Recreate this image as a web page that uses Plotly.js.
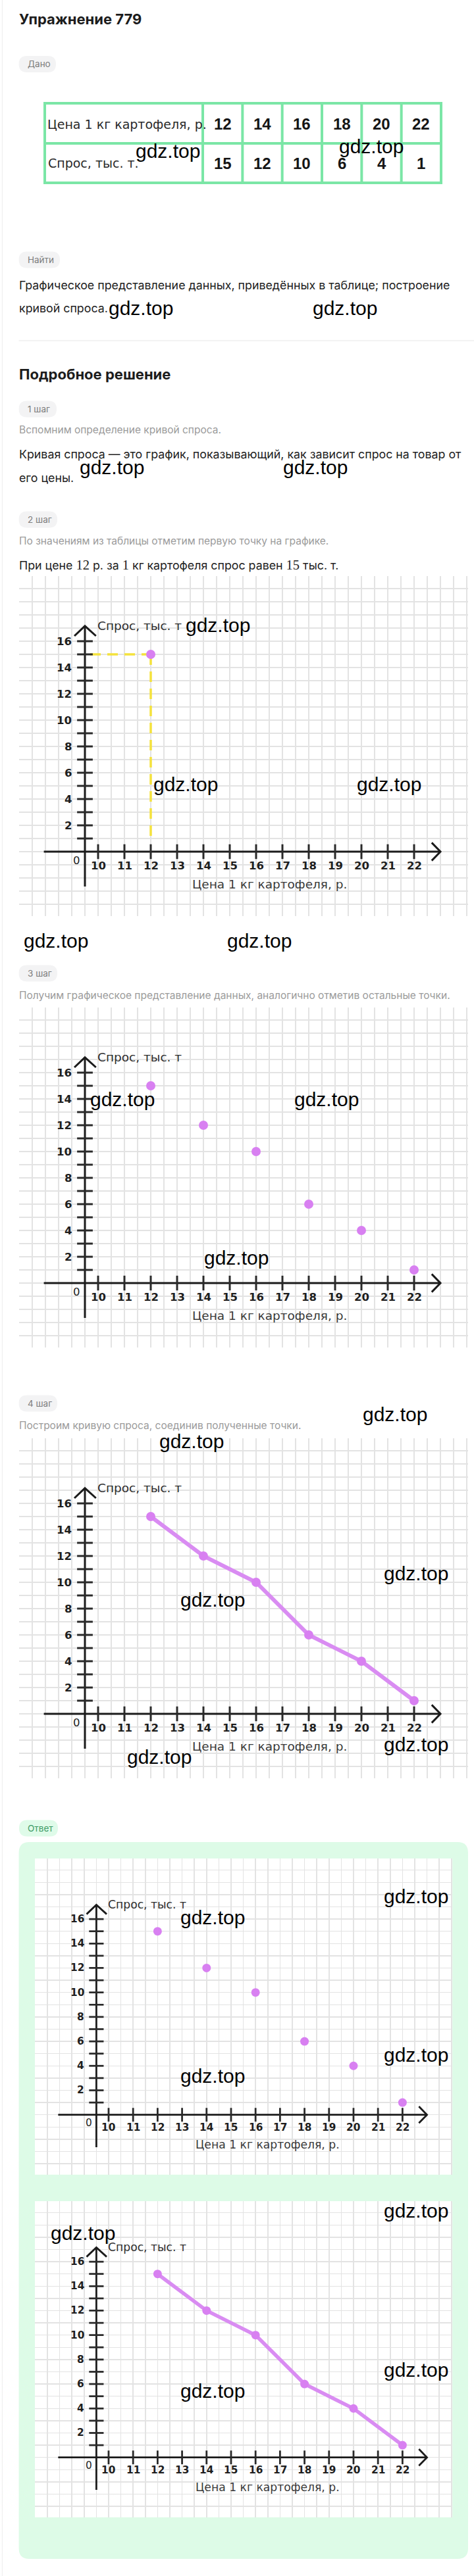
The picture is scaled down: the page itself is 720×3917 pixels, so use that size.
<!DOCTYPE html>
<html>
<head>
<meta charset="utf-8">
<script src="https://cdn.plot.ly/plotly-3.0.1.min.js"></script>
<style>
html,body{margin:0;padding:0;background:#ffffff;}
#page{width:720px;height:3917px;}
</style>
</head>
<body>
<div id="page"></div>
<script>
// ---------- data ----------
const prices = [12, 14, 16, 18, 20, 22];          // Цена 1 кг картофеля, р.
const demand = [15, 12, 10, 6, 4, 1];             // Спрос, тыс. т
const xTickVals = [10, 11, 12, 13, 14, 15, 16, 17, 18, 19, 20, 21, 22];
const yTickMarks = [1, 2, 3, 4, 5, 6, 7, 8, 9, 10, 11, 12, 13, 14, 15, 16];
const yTickLabels = [2, 4, 6, 8, 10, 12, 14, 16];
const rowLabels = ["Цена 1 кг картофеля, р.", "Спрос, тыс. т."];
const xTitle = "Цена 1 кг картофеля, р.";
const yTitle = "Спрос, тыс. т";

// ---------- helpers ----------
const W = 720, H = 3917;
const X = p => p / W, Y = p => 1 - p / H;
const shapes = [], ann = [], traces = [];
const BODY = "Inter, 'Noto Sans', sans-serif";
const CH = "'DejaVu Sans', sans-serif";
const ARI = "'Liberation Sans', Arial, sans-serif";
const MAIN = 17.8;

function txt(s, x, y, o) {
  o = o || {};
  ann.push({xref: 'paper', yref: 'paper', x: X(x), y: Y(y), text: s, showarrow: false,
    xanchor: o.anchor || 'left', yanchor: 'middle', align: 'left',
    font: {family: o.family || BODY, size: o.size || MAIN, color: o.color || '#222222', weight: o.weight || 400}});
}
function rrect(x0, y0, x1, y1, r, fill) {
  const P = (x, y) => X(x) + ',' + Y(y);
  const d = 'M' + P(x0 + r, y0) + ' L' + P(x1 - r, y0) + ' Q' + P(x1, y0) + ' ' + P(x1, y0 + r) +
    ' L' + P(x1, y1 - r) + ' Q' + P(x1, y1) + ' ' + P(x1 - r, y1) +
    ' L' + P(x0 + r, y1) + ' Q' + P(x0, y1) + ' ' + P(x0, y1 - r) +
    ' L' + P(x0, y0 + r) + ' Q' + P(x0, y0) + ' ' + P(x0 + r, y0) + ' Z';
  shapes.push({type: 'path', xref: 'paper', yref: 'paper', path: d, fillcolor: fill, line: {width: 0}, layer: 'below'});
}
function prect(x0, y0, x1, y1, fill, lc, lw) {
  shapes.push({type: 'rect', xref: 'paper', yref: 'paper', x0: X(x0), x1: X(x1), y0: Y(y1), y1: Y(y0),
    fillcolor: fill || 'rgba(0,0,0,0)', line: {width: lw || 0, color: lc || 'rgba(0,0,0,0)'}, layer: 'below'});
}
function pline(x0, y0, x1, y1, lc, lw) {
  shapes.push({type: 'line', xref: 'paper', yref: 'paper', x0: X(x0), x1: X(x1), y0: Y(y0), y1: Y(y1),
    line: {width: lw, color: lc}, layer: 'below'});
}
function chip(label, x0, x1, yc, green) {
  rrect(x0, yc - 12.5, x1, yc + 12.5, 12.5, green ? '#dffbe9' : '#f3f3f4');
  txt(label, x0 + 11, yc, {size: 13.5, color: green ? '#3c9a64' : '#7c7c7c'});
}

// ---------- page frame ----------
pline(3.5, 0, 3.5, H, '#f1f1f1', 1.5);

// title
txt('Упражнение 779', 27, 29, {size: 22, weight: 700, color: '#1c1c1c'});
chip('Дано', 28.6, 85, 97.5);

// table
const tL = 68, tR = 670, tT = 157, tM = 218, tB = 278, firstColW = 240;
const colW = (tR - tL - firstColW) / prices.length;
const TG = '#7be6a6';
prect(tL, tT, tR, tB, '#ffffff', TG, 4);
pline(tL, tM, tR, tM, TG, 4);
for (let i = 0; i < prices.length; i++) {
  const cx = tL + firstColW + i * colW;
  pline(cx, tT, cx, tB, TG, 4);
}
txt(rowLabels[0], tL + 2, (tT + tM) / 2 + 1, {family: CH, size: 19, color: '#2a2a2a'});
txt(rowLabels[1], tL + 3, (tM + tB) / 2, {family: CH, size: 19, color: '#2a2a2a'});
prices.forEach((p, i) => txt(String(p), tL + firstColW + (i + 0.5) * colW, (tT + tM) / 2 + 1,
  {family: ARI, size: 24, weight: 700, color: '#151515', anchor: 'center'}));
demand.forEach((d, i) => txt(String(d), tL + firstColW + (i + 0.5) * colW, (tM + tB) / 2 + 1,
  {family: ARI, size: 24, weight: 700, color: '#151515', anchor: 'center'}));

chip('Найти', 28.6, 91, 395);
txt('Графическое представление данных, приведённых в таблице; построение', 27, 434);
txt('кривой спроса.', 27, 468);
pline(28.6, 518, 720, 518, '#efefef', 1.5);
txt('Подробное решение', 27, 569, {size: 22, weight: 700, color: '#1c1c1c'});

chip('1 шаг', 28.6, 86, 622);
txt('Вспомним определение кривой спроса.', 27, 653, {size: 15.5, color: '#9b9b9b'});
txt('Кривая спроса — это график, показывающий, как зависит спрос на товар от', 27, 690);
txt('его цены.', 27, 727);

chip('2 шаг', 28.6, 87, 790);
txt('По значениям из таблицы отметим первую точку на графике.', 27, 822, {size: 15.5, color: '#9b9b9b'});
const M = s => '<span style="font-family:Liberation Serif;font-size:20.5px">' + s + '</span>';
txt('При цене ' + M(prices[0]) + ' р. за ' + M(1) + ' кг картофеля спрос равен ' + M(demand[0]) + ' тыс. т.', 27, 859);

chip('3 шаг', 28.6, 87, 1480);
txt('Получим графическое представление данных, аналогично отметив остальные точки.', 27, 1513, {size: 15.5, color: '#9b9b9b'});

chip('4 шаг', 28.6, 87, 2134);
txt('Построим кривую спроса, соединив полученные точки.', 27, 2167, {size: 15.5, color: '#9b9b9b'});

chip('Ответ', 29, 88, 2780, true);
rrect(28.6, 2801, 711, 3891, 16, '#ddfbe7');

// ---------- charts ----------
const AX = 9.5;                 // x value where the vertical axis crosses
const XR = [6.99, 6.99 + 682 / 40];
const YR = [-4.9, 20.95];
const charts = [
  {L: 28.6, T: 876, s: 1, mode: 'first'},
  {L: 28.6, T: 1532, s: 1, mode: 'points'},
  {L: 28.6, T: 2187, s: 1, mode: 'line'},
  {L: 53, T: 2826, s: 0.93, mode: 'points'},
  {L: 53, T: 3347, s: 0.93, mode: 'line'}
];

const layout = {
  width: W, height: H, margin: {l: 0, r: 0, t: 0, b: 0},
  paper_bgcolor: '#ffffff', plot_bgcolor: 'rgba(0,0,0,0)', showlegend: false,
  hovermode: false, shapes: shapes, annotations: ann
};

const VIOLET = '#d880f1';
const LINEV = '#d98cf2';

charts.forEach((c, i) => {
  const sfx = i === 0 ? '' : String(i + 1);
  const xa = 'x' + sfx, ya = 'y' + sfx, s = c.s;
  // white graph-paper box
  prect(c.L, c.T, c.L + 682 * s, c.T + 517 * s, '#ffffff');
  layout['xaxis' + sfx] = {domain: [X(c.L), X(c.L + 682 * s)], range: XR, anchor: ya,
    showgrid: true, gridcolor: '#e3e3e3', gridwidth: 1.6 * s, tick0: AX, dtick: 0.5,
    showticklabels: false, ticks: '', zeroline: false, showline: false, fixedrange: true};
  layout['yaxis' + sfx] = {domain: [Y(c.T + 517 * s), Y(c.T)], range: YR, anchor: xa,
    showgrid: true, gridcolor: '#e3e3e3', gridwidth: 1.6 * s, tick0: 0, dtick: 1,
    showticklabels: false, ticks: '', zeroline: false, showline: false, fixedrange: true};

  const AXC = '#1b1b1b', lw = 3 * s;
  const xTip = 23.0, yTip = 17.16;
  shapes.push({type: 'line', xref: xa, yref: ya, x0: 7.94, x1: xTip, y0: 0, y1: 0, line: {color: AXC, width: lw}, layer: 'between'});
  shapes.push({type: 'path', xref: xa, yref: ya, path: 'M' + (xTip - 0.33) + ',0.68 L' + xTip + ',0 L' + (xTip - 0.33) + ',-0.68',
    line: {color: AXC, width: lw}, layer: 'between'});
  shapes.push({type: 'line', xref: xa, yref: ya, x0: AX, x1: AX, y0: -2.65, y1: yTip, line: {color: AXC, width: lw}, layer: 'between'});
  shapes.push({type: 'path', xref: xa, yref: ya, path: 'M' + (AX - 0.4) + ',' + (yTip - 0.76) + ' L' + AX + ',' + yTip + ' L' + (AX + 0.42) + ',' + (yTip - 0.76),
    line: {color: AXC, width: lw}, layer: 'between'});

  // first point guide lines (step 2)
  if (c.mode === 'first') {
    traces.push({type: 'scatter', mode: 'lines', x: [AX + 0.2, prices[0]], y: [demand[0], demand[0]], xaxis: xa, yaxis: ya,
      line: {color: '#f4e23c', width: 3.5, dash: '16px,10px'}, hoverinfo: 'skip'});
    traces.push({type: 'scatter', mode: 'lines', x: [prices[0], prices[0]], y: [demand[0], 0.7], xaxis: xa, yaxis: ya,
      line: {color: '#f4e23c', width: 3.5, dash: '16px,10px'}, hoverinfo: 'skip'});
  }
  // tick marks
  traces.push({type: 'scatter', mode: 'markers', x: yTickMarks.map(() => AX), y: yTickMarks, xaxis: xa, yaxis: ya,
    marker: {symbol: 'line-ew', size: 17 * s, line: {width: 3 * s, color: '#2a2a2a'}}, hoverinfo: 'skip'});
  traces.push({type: 'scatter', mode: 'markers', x: xTickVals, y: xTickVals.map(() => 0), xaxis: xa, yaxis: ya,
    marker: {symbol: 'line-ns', size: 16 * s, line: {width: 3 * s, color: '#2a2a2a'}}, hoverinfo: 'skip'});

  // data
  if (c.mode === 'first') {
    traces.push({type: 'scatter', mode: 'markers', x: [prices[0]], y: [demand[0]], xaxis: xa, yaxis: ya,
      marker: {color: VIOLET, size: 14 * s}, hoverinfo: 'skip'});
  } else if (c.mode === 'points') {
    traces.push({type: 'scatter', mode: 'markers', x: prices, y: demand, xaxis: xa, yaxis: ya,
      marker: {color: VIOLET, size: 14 * s}, hoverinfo: 'skip'});
  } else {
    traces.push({type: 'scatter', mode: 'lines+markers', x: prices, y: demand, xaxis: xa, yaxis: ya,
      line: {color: LINEV, width: 6 * s}, marker: {color: VIOLET, size: 14 * s}, hoverinfo: 'skip'});
  }

  // tick labels and titles
  const lf = {family: CH, size: 16.5 * s, color: '#1e1e1e', weight: 700};
  yTickLabels.forEach(v => ann.push({xref: xa, yref: ya, x: AX - 0.45, y: v, text: String(v), showarrow: false,
    xanchor: 'right', yanchor: 'middle', font: lf}));
  xTickVals.forEach(v => ann.push({xref: xa, yref: ya, x: v, y: -1.05, text: String(v), showarrow: false,
    xanchor: 'center', yanchor: 'middle', font: lf}));
  ann.push({xref: xa, yref: ya, x: 9.19, y: -0.65, text: '0', showarrow: false, xanchor: 'center', yanchor: 'middle',
    font: {family: CH, size: 16.5 * s, color: '#1e1e1e'}});
  ann.push({xref: xa, yref: ya, x: 9.93, y: 17.17, text: yTitle, showarrow: false, xanchor: 'left', yanchor: 'middle',
    font: {family: CH, size: 18.5 * s, color: '#2e2e2e'}});
  ann.push({xref: xa, yref: ya, x: 16.5, y: -2.45, text: xTitle, showarrow: false, xanchor: 'center', yanchor: 'middle',
    font: {family: CH, size: 18.5 * s, color: '#3a3a3a'}});
});

// ---------- watermarks ----------
const marks = [[255, 230], [564, 222], [214, 468], [524, 468], [170, 710], [479, 710],
  [331, 950], [282, 1192], [591, 1192], [85, 1430], [394, 1430],
  [186, 1671], [496, 1671], [359, 1912], [600, 2150], [291, 2191], [632, 2392], [323, 2432],
  [632, 2652], [242, 2671], [632, 2883], [323, 2915], [632, 3124], [323, 3156],
  [632, 3361], [126, 3395], [632, 3603], [323, 3635]];
marks.forEach(m => txt('gdz.top', m[0], m[1], {family: ARI, size: 30, color: '#000000', anchor: 'center'}));

Plotly.newPlot('page', traces, layout, {staticPlot: true, displayModeBar: false});
</script>
</body>
</html>
